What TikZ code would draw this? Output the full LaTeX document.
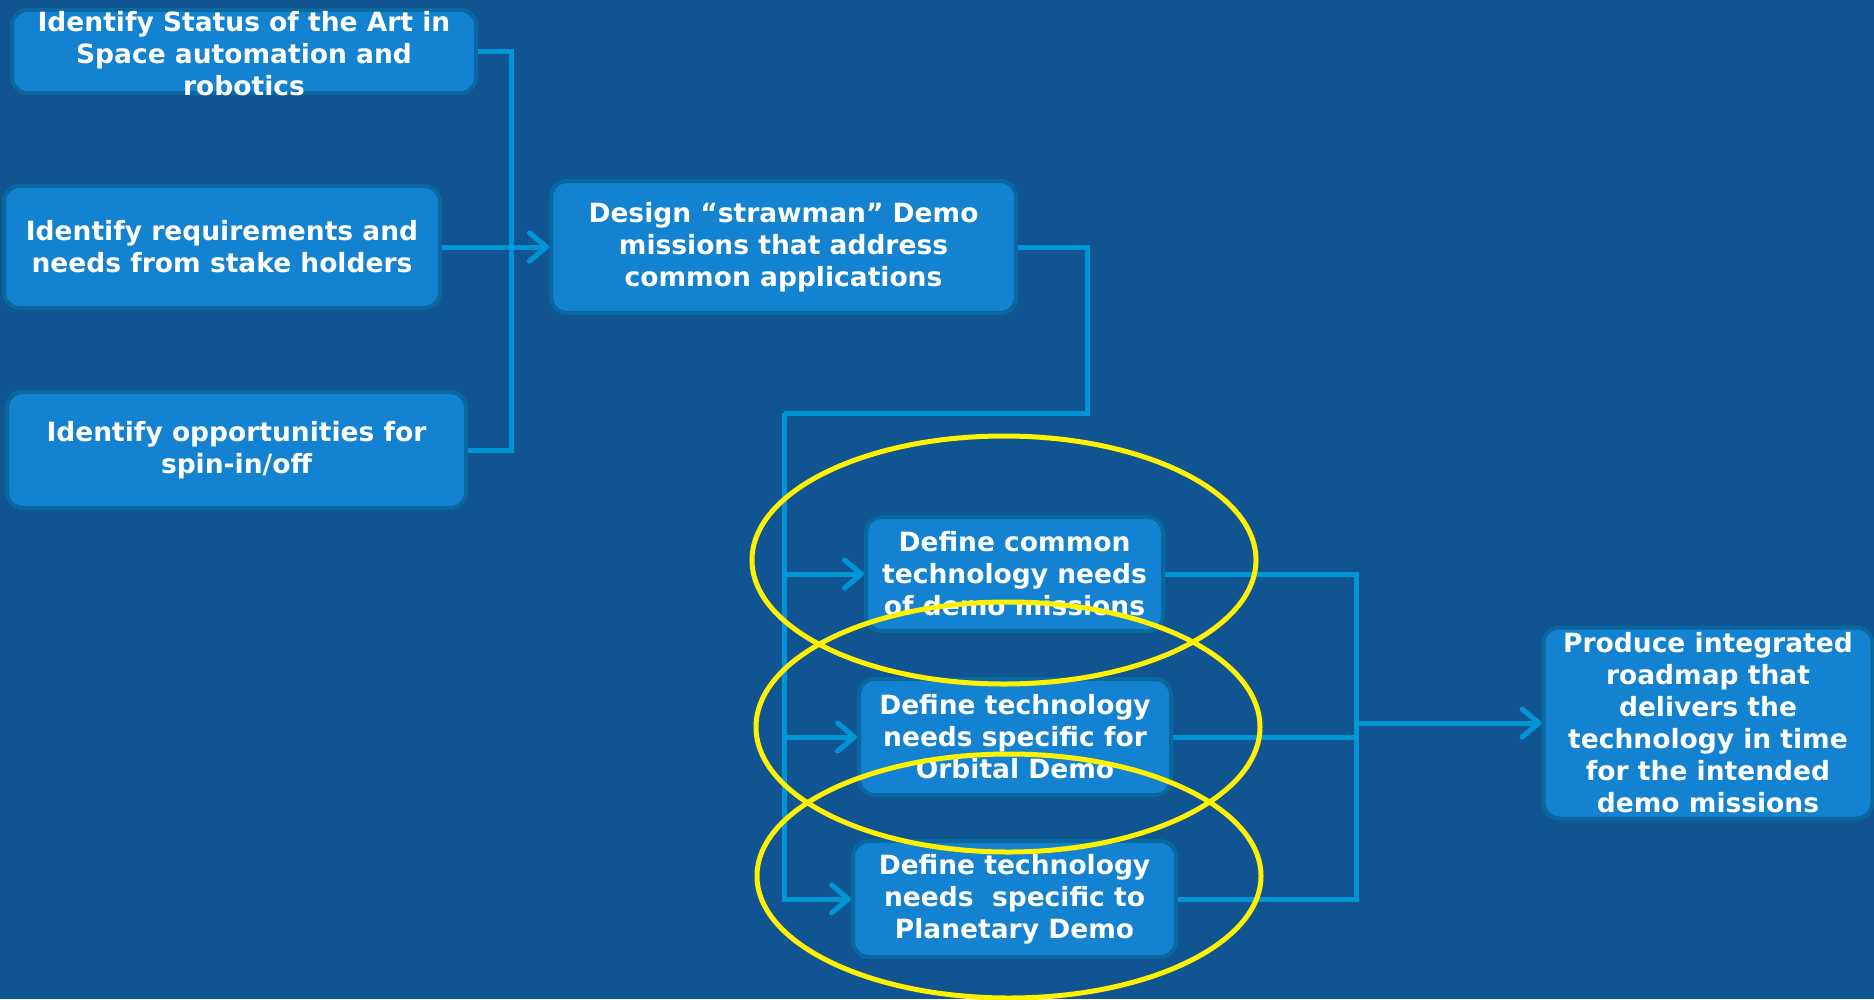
\documentclass[tikz,border=0pt]{standalone}
\usepackage{fontspec}
\setmainfont{DejaVu Sans}
\usetikzlibrary{arrows.meta}
\definecolor{spacebg}{RGB}{17,84,146}
\definecolor{boxfill}{RGB}{19,130,208}
\definecolor{boxedge}{RGB}{10,104,160}
\definecolor{linkblue}{RGB}{0,150,214}
\newcommand{\pxsize}{1pt}

\begin{document}
\begin{tikzpicture}[x=\pxsize,y=-\pxsize]
\fill[spacebg] (0,0) rectangle (1874,999);
\useasboundingbox (0,0) rectangle (1874,999);
\tikzstyle{taskbox}=[draw=boxedge,
                     line width=4pt,
                     fill=boxfill,
                     rounded corners=16pt,
                     inner sep=0pt
                     ]
\tikzstyle{tasktext}=[text=white,
                      align=center,
                      inner sep=0pt,
                      font=\bfseries\fontsize{26.5}{32}\selectfont
                      ]
\tikzstyle{link}=[draw=linkblue, line width=5pt]
\tikzstyle{feed}=[link, -{Straight Barb[length=17pt,width=28pt,round]}]
\tikzstyle{ring}=[draw=yellow, line width=5pt]
% inputs
\node[taskbox, minimum width=464pt, minimum height=83pt] (stat) at (244,51.5) {};
\node[tasktext] (stattext) at (244,54) {Identify Status of the Art in\\Space automation and\\robotics};
\node[taskbox, tasktext, minimum width=436pt, minimum height=122pt] (req) at (222,247) {Identify requirements and\\needs from stake holders};
\node[taskbox, tasktext, minimum width=459pt, minimum height=116pt] (spin) at (236.5,450) {Identify opportunities for\\spin-in/off};
\node[taskbox, tasktext, minimum width=465pt, minimum height=132pt] (design) at (783.5,247) {Design “strawman” Demo\\missions that address\\common applications};
% technology needs
\node[taskbox, tasktext, minimum width=297pt, minimum height=114pt] (common) at (1014.5,574) {Define common\\technology needs\\of demo missions};
\node[taskbox, tasktext, minimum width=312pt, minimum height=116pt] (orbital) at (1015,737) {Define technology\\needs specific for\\Orbital Demo};
\node[taskbox, tasktext, minimum width=323pt, minimum height=116pt] (planet) at (1014.5,899) {Define technology\\needs~ specific to\\Planetary Demo};
\node[taskbox, tasktext, minimum width=329pt, minimum height=191pt] (produce) at (1708,723) {Produce integrated\\roadmap that\\delivers the\\technology in time\\for the intended\\demo missions};
% connectors
\coordinate (gather) at (511,247);
\draw[link] (stat.east) -| (gather);
\draw[link] (spin.east) -| (gather);
\draw[feed] (req.east) -- (design.west);
\coordinate (turn) at (1087,413);
\coordinate (split) at (784,413);
\draw[link] (design.east) -| (turn) -- (split);
\draw[feed] (split) |- (planet.west);
\draw[feed] (split |- common.west) -- (common.west);
\draw[feed] (split |- orbital.west) -- (orbital.west);
\coordinate (merge) at (1356,723);
\draw[link] (common.east) -| (merge);
\draw[link] (planet.east) -| (merge);
\draw[link] (orbital.east) -- (orbital.east -| merge);
\draw[feed] (merge) -- (produce.west);
% highlight rings
\draw[ring] (1004,560) ellipse [x radius=252, y radius=124];
\draw[ring] (1008,727) ellipse [x radius=252, y radius=125];
\draw[ring] (1009,876) ellipse [x radius=252, y radius=122];
\end{tikzpicture}
\end{document}
